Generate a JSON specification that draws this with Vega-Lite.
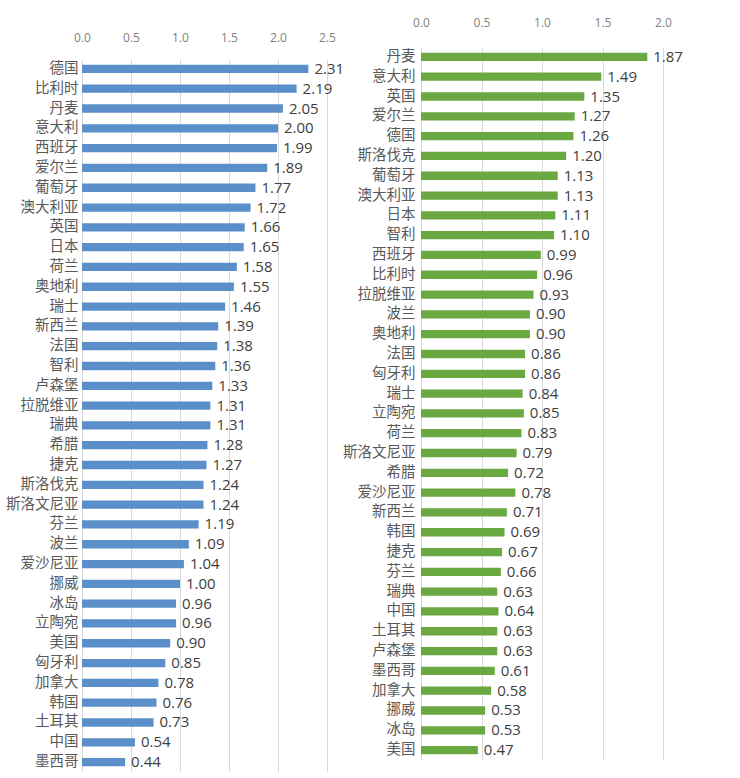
{
  "$schema": "https://vega.github.io/schema/vega-lite/v6.json",
  "padding": {"left": 5, "top": 16, "right": 0, "bottom": 0},
  "background": "white",
  "bounds": "flush",
  "spacing": 94,
  "config": {
    "view": {"stroke": null},
    "font": "Noto Sans CJK SC",
    "axis": {"gridColor": "#d9d9d9", "gridWidth": 1, "domain": false, "ticks": false, "tickSize": 0, "labelFlush": false}
  },
  "datasets": {
    "left": [
      {"country": "德国", "value": 2.31},
      {"country": "比利时", "value": 2.19},
      {"country": "丹麦", "value": 2.05},
      {"country": "意大利", "value": 2.00},
      {"country": "西班牙", "value": 1.99},
      {"country": "爱尔兰", "value": 1.89},
      {"country": "葡萄牙", "value": 1.77},
      {"country": "澳大利亚", "value": 1.72},
      {"country": "英国", "value": 1.66},
      {"country": "日本", "value": 1.65},
      {"country": "荷兰", "value": 1.58},
      {"country": "奥地利", "value": 1.55},
      {"country": "瑞士", "value": 1.46},
      {"country": "新西兰", "value": 1.39},
      {"country": "法国", "value": 1.38},
      {"country": "智利", "value": 1.36},
      {"country": "卢森堡", "value": 1.33},
      {"country": "拉脱维亚", "value": 1.31},
      {"country": "瑞典", "value": 1.31},
      {"country": "希腊", "value": 1.28},
      {"country": "捷克", "value": 1.27},
      {"country": "斯洛伐克", "value": 1.24},
      {"country": "斯洛文尼亚", "value": 1.24},
      {"country": "芬兰", "value": 1.19},
      {"country": "波兰", "value": 1.09},
      {"country": "爱沙尼亚", "value": 1.04},
      {"country": "挪威", "value": 1.00},
      {"country": "冰岛", "value": 0.96},
      {"country": "立陶宛", "value": 0.96},
      {"country": "美国", "value": 0.90},
      {"country": "匈牙利", "value": 0.85},
      {"country": "加拿大", "value": 0.78},
      {"country": "韩国", "value": 0.76},
      {"country": "土耳其", "value": 0.73},
      {"country": "中国", "value": 0.54},
      {"country": "墨西哥", "value": 0.44}
    ],
    "right": [
      {"country": "丹麦", "value": 1.87},
      {"country": "意大利", "value": 1.49},
      {"country": "英国", "value": 1.35},
      {"country": "爱尔兰", "value": 1.27},
      {"country": "德国", "value": 1.26},
      {"country": "斯洛伐克", "value": 1.20},
      {"country": "葡萄牙", "value": 1.13},
      {"country": "澳大利亚", "value": 1.13},
      {"country": "日本", "value": 1.11},
      {"country": "智利", "value": 1.10},
      {"country": "西班牙", "value": 0.99},
      {"country": "比利时", "value": 0.96},
      {"country": "拉脱维亚", "value": 0.93},
      {"country": "波兰", "value": 0.90},
      {"country": "奥地利", "value": 0.90},
      {"country": "法国", "value": 0.86},
      {"country": "匈牙利", "value": 0.86},
      {"country": "瑞士", "value": 0.84},
      {"country": "立陶宛", "value": 0.85},
      {"country": "荷兰", "value": 0.83},
      {"country": "斯洛文尼亚", "value": 0.79},
      {"country": "希腊", "value": 0.72},
      {"country": "爱沙尼亚", "value": 0.78},
      {"country": "新西兰", "value": 0.71},
      {"country": "韩国", "value": 0.69},
      {"country": "捷克", "value": 0.67},
      {"country": "芬兰", "value": 0.66},
      {"country": "瑞典", "value": 0.63},
      {"country": "中国", "value": 0.64},
      {"country": "土耳其", "value": 0.63},
      {"country": "卢森堡", "value": 0.63},
      {"country": "墨西哥", "value": 0.61},
      {"country": "加拿大", "value": 0.58},
      {"country": "挪威", "value": 0.53},
      {"country": "冰岛", "value": 0.53},
      {"country": "美国", "value": 0.47}
    ]
  },
  "hconcat": [
    {
      "width": 245,
      "height": 725,
      "data": {"name": "left"},
      "encoding": {
        "y": {
          "field": "country", "type": "nominal", "sort": null,
          "scale": {"paddingInner": 0.58, "paddingOuter": 0.29, "range": [12, 725]},
          "axis": {"title": null, "labelFontSize": 14.5, "labelColor": "#595959", "labelPadding": 4, "grid": false}
        },
        "x": {
          "field": "value", "type": "quantitative",
          "scale": {"domain": [0, 2.5], "nice": false},
          "axis": {"orient": "top", "title": null, "values": [0, 0.5, 1, 1.5, 2, 2.5], "format": ".1f", "labelFontSize": 12, "labelColor": "#7f7f7f", "labelPadding": 3, "labelFont": "Open Sans"}
        }
      },
      "layer": [
        {"mark": {"type": "bar", "color": "#5b8fc9"}},
        {"mark": {"type": "text", "align": "left", "baseline": "middle", "dx": 6, "fontSize": 15, "color": "#404040", "font": "Open Sans"},
         "encoding": {"text": {"field": "value", "type": "quantitative", "format": ".2f"}}}
      ]
    },
    {
      "width": 242,
      "height": 725,
      "data": {"name": "right"},
      "encoding": {
        "y": {
          "field": "country", "type": "nominal", "sort": null,
          "scale": {"paddingInner": 0.58, "paddingOuter": 0.29, "range": [0, 713]},
          "axis": {"title": null, "labelFontSize": 14.5, "labelColor": "#595959", "labelPadding": 6, "grid": false}
        },
        "x": {
          "field": "value", "type": "quantitative",
          "scale": {"domain": [0, 2.0], "nice": false},
          "axis": {"orient": "top", "title": null, "values": [0, 0.5, 1, 1.5, 2], "format": ".1f", "labelFontSize": 12, "labelColor": "#7f7f7f", "labelPadding": 18, "labelFont": "Open Sans"}
        }
      },
      "layer": [
        {"mark": {"type": "bar", "color": "#6aa842"}},
        {"mark": {"type": "text", "align": "left", "baseline": "middle", "dx": 6, "fontSize": 15, "color": "#404040", "font": "Open Sans"},
         "encoding": {"text": {"field": "value", "type": "quantitative", "format": ".2f"}}}
      ]
    }
  ]
}
